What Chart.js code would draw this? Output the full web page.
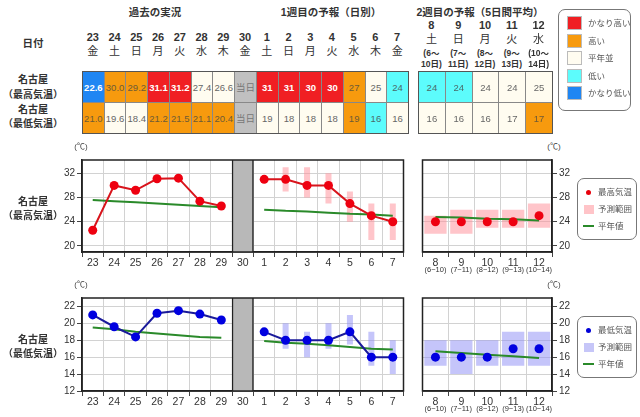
<!DOCTYPE html>
<html>
<head>
<meta charset="utf-8">
<script src="https://cdn.jsdelivr.net/npm/chart.js@4.4.1/dist/chart.umd.min.js"></script>
<style>
  body { margin: 0; width: 640px; height: 417px; background: #fff; position: relative; overflow: hidden;
         font-family: "Liberation Sans", "Noto Sans CJK JP", sans-serif; color: #333; }
  .t { position: absolute; white-space: nowrap; transform: translateX(-50%); text-align: center; }
  .l { position: absolute; white-space: nowrap; }
  .cell { position: absolute; box-sizing: border-box; border-right: 1px solid #888; border-bottom: 1px solid #888;
          font-size: 9.5px; display: flex; align-items: center; justify-content: center; color: #666; }
  .tbl { position: absolute; box-sizing: border-box; border: 1px solid #555; }
  .legend { position: absolute; box-sizing: border-box; border: 1px solid #777; border-radius: 7px; background: #fff; }
  canvas { position: absolute; }
</style>
</head>
<body>
<canvas id="highWeek" width="368" height="122" style="left:40px;top:152px"></canvas>
<canvas id="highWeek2" width="164" height="132" style="left:418px;top:152px"></canvas>
<canvas id="lowWeek" width="368" height="123" style="left:40px;top:290px"></canvas>
<canvas id="lowWeek2" width="164" height="133" style="left:418px;top:290px"></canvas>
<script>
// 日付
const pastDays = ['23', '24', '25', '26', '27', '28', '29'];
const pastWeekdays = ['金', '土', '日', '月', '火', '水', '木'];
const todayDay = '30';
const todayWeekday = '金';
const week1Days = ['1', '2', '3', '4', '5', '6', '7'];
const week1Weekdays = ['土', '日', '月', '火', '水', '木', '金'];
const week2Days = ['8', '9', '10', '11', '12'];
const week2Weekdays = ['土', '日', '月', '火', '水'];
const week2Periods = [['6', '10'], ['7', '11'], ['8', '12'], ['9', '13'], ['10', '14']];

// 最高気温
const pastHigh = [22.6, 30.0, 29.2, 31.1, 31.2, 27.4, 26.6];
const week1High = [31, 31, 30, 30, 27, 25, 24];
const week1HighRange = [null, [29, 33], [28, 33], [27, 32], [24, 29], [21, 27], [21, 27]];
const week2High = [24, 24, 24, 24, 25];
const week2HighRange = [[22, 25], [22, 26], [23, 26], [23, 26], [23, 27]];
const normalHighPast = [27.6, 27.4, 27.2, 27.0, 26.8, 26.6, 26.4];
const normalHighWeek1 = [26.0, 25.8, 25.7, 25.5, 25.3, 25.2, 25.0];
const normalHighWeek2 = [24.8, 24.7, 24.5, 24.4, 24.2];
const pastHighClass = ['vlow', 'high', 'high', 'vhigh', 'vhigh', 'norm', 'norm'];
const week1HighClass = ['vhigh', 'vhigh', 'vhigh', 'vhigh', 'high', 'norm', 'low'];
const week2HighClass = ['low', 'low', 'norm', 'norm', 'norm'];

// 最低気温
const pastLow = [21.0, 19.6, 18.4, 21.2, 21.5, 21.1, 20.4];
const week1Low = [19, 18, 18, 18, 19, 16, 16];
const week1LowRange = [null, [17, 20], [16, 19], [17, 20], [17.5, 21], [15, 19], [14, 18]];
const week2Low = [16, 16, 16, 17, 17];
const week2LowRange = [[15, 18], [14, 18], [15, 18], [15, 19], [15, 19]];
const normalLowPast = [19.5, 19.3, 19.0, 18.8, 18.6, 18.4, 18.3];
const normalLowWeek1 = [17.9, 17.7, 17.6, 17.4, 17.2, 17.0, 16.9];
const normalLowWeek2 = [16.7, 16.5, 16.3, 16.1, 15.9];
const pastLowClass = ['high', 'norm', 'norm', 'high', 'high', 'high', 'high'];
const week1LowClass = ['norm', 'norm', 'norm', 'norm', 'high', 'low', 'norm'];
const week2LowClass = ['norm', 'norm', 'norm', 'norm', 'high'];

// 軸
const highTicks = [20, 22, 24, 26, 28, 30, 32, 34];
const lowTicks = [12, 14, 16, 18, 20, 22];

const legendItems = [['vhigh', 'かなり高い'], ['high', '高い'], ['norm', '平年並'], ['low', '低い'], ['vlow', 'かなり低い']];

const classColors = { vhigh: '#f01f23', high: '#f79a0e', norm: '#fffcf0', low: '#5cfcfc', vlow: '#1f86f3', today: '#c0c0c0' };
const classText = { vhigh: '#fff', high: '#6e5a36', norm: '#666', low: '#4a6a6a', vlow: '#fff', today: '#777' };

function text(x, y, str, size, extra) {
    const d = document.createElement('div');
    d.className = 't';
    d.textContent = str;
    d.style.left = x + 'px';
    d.style.top = (y - (size + 2) / 2) + 'px';
    d.style.fontSize = size + 'px';
    d.style.lineHeight = (size + 2) + 'px';
    if (extra) Object.assign(d.style, extra);
    document.body.appendChild(d);
    return d;
}

// 見出し
const bold = { fontWeight: 'bold', color: '#333' };
text(155, 12, '過去の実況', 10.5, bold);
text(331, 12, '1週目の予報（日別）', 10.5, bold);
text(480, 12, '2週目の予報（5日間平均）', 10.5, bold);
text(33, 43, '日付', 10.5, bold);
text(33, 80, '名古屋', 10, bold);
text(33, 95, '（最高気温）', 10, bold);
text(33, 110, '名古屋', 10, bold);
text(33, 124, '（最低気温）', 10, bold);
text(33, 202, '名古屋', 10, bold);
text(33, 216, '（最高気温）', 10, bold);
text(33, 340, '名古屋', 10, bold);
text(33, 354, '（最低気温）', 10, bold);
text(81, 147, '(℃)', 8, { color: '#444' });
text(554, 147, '(℃)', 8, { color: '#444' });
text(81, 285, '(℃)', 8, { color: '#444' });
text(554, 285, '(℃)', 8, { color: '#444' });

// 表
function buildTable(left, top, colW, rowH, days, weekdays, rows) {
    const n = days.length;
    const t = document.createElement('div');
    t.className = 'tbl';
    t.style.left = left + 'px';
    t.style.top = top + 'px';
    t.style.width = (colW * n + 1) + 'px';
    t.style.height = (rowH * rows.length + 1) + 'px';
    document.body.appendChild(t);
    rows.forEach((row, r) => {
        row.forEach((c, i) => {
            const d = document.createElement('div');
            d.className = 'cell';
            d.style.left = (left + colW * i) + 'px';
            d.style.top = (top + rowH * r) + 'px';
            d.style.width = (colW + 1) + 'px';
            d.style.height = (rowH + 1) + 'px';
            d.style.border = '1px solid #888';
            d.style.background = classColors[c.cls];
            d.style.color = classText[c.cls];
            if (c.cls === 'vhigh' || c.cls === 'vlow') d.style.fontWeight = 'bold';
            d.textContent = c.text;
            document.body.appendChild(d);
        });
    });
    t.style.zIndex = 2;
}

const colW1 = 326 / 15;
const days1 = [...pastDays, todayDay, ...week1Days];
const wd1 = [...pastWeekdays, todayWeekday, ...week1Weekdays];
days1.forEach((d, i) => {
    const cx = 82 + colW1 * (i + 0.5);
    text(cx, 37, d, 11, { fontWeight: 'bold', color: '#333' });
    text(cx, 51, wd1[i], 11, { color: '#333' });
});
const fmt1 = v => v.toFixed(1);
const highRow1 = [
    ...pastHigh.map((v, i) => ({ text: fmt1(v), cls: pastHighClass[i] })),
    { text: '当日', cls: 'today' },
    ...week1High.map((v, i) => ({ text: String(v), cls: week1HighClass[i] }))
];
const lowRow1 = [
    ...pastLow.map((v, i) => ({ text: fmt1(v), cls: pastLowClass[i] })),
    { text: '当日', cls: 'today' },
    ...week1Low.map((v, i) => ({ text: String(v), cls: week1LowClass[i] }))
];
buildTable(82, 71, colW1, 31, days1, wd1, [highRow1, lowRow1]);

const colW2 = 134 / 5;
week2Days.forEach((d, i) => {
    const cx = 418 + colW2 * (i + 0.5);
    text(cx, 25, d, 11, { fontWeight: 'bold', color: '#333' });
    text(cx, 39, week2Weekdays[i], 11, { color: '#333' });
    text(cx, 53, '(' + week2Periods[i][0] + '〜', 8.5, { color: '#333', fontWeight: 'bold' });
    text(cx, 64, week2Periods[i][1] + '日)', 8.5, { color: '#333', fontWeight: 'bold' });
});
buildTable(418, 71, colW2, 31, week2Days, week2Weekdays, [
    week2High.map((v, i) => ({ text: String(v), cls: week2HighClass[i] })),
    week2Low.map((v, i) => ({ text: String(v), cls: week2LowClass[i] }))
]);

// 凡例（表）
const lg = document.createElement('div');
lg.className = 'legend';
Object.assign(lg.style, { left: '558px', top: '9px', width: '73px', height: '102px' });
document.body.appendChild(lg);
legendItems.forEach(([cls, label], i) => {
    const y = 23 + i * 17.5;
    const sw = document.createElement('div');
    Object.assign(sw.style, { position: 'absolute', left: '567px', top: (y - 7) + 'px', width: '15px', height: '14px',
        background: classColors[cls], border: '1px solid #bbb', boxSizing: 'border-box' });
    document.body.appendChild(sw);
    const tx = document.createElement('div');
    tx.className = 'l';
    tx.textContent = label;
    Object.assign(tx.style, { left: '588px', top: (y - 6) + 'px', fontSize: '8.5px', lineHeight: '12px', color: '#555' });
    document.body.appendChild(tx);
});

// 凡例（グラフ）
function chartLegend(top, color, fill, label) {
    const b = document.createElement('div');
    b.className = 'legend';
    Object.assign(b.style, { left: '577px', top: top + 'px', width: '60px', height: '62px' });
    document.body.appendChild(b);
    const ys = [top + 14, top + 31, top + 48];
    const dot = document.createElement('div');
    Object.assign(dot.style, { position: 'absolute', left: '586px', top: (ys[0] - 2.5) + 'px', width: '5px', height: '5px',
        borderRadius: '50%', background: color });
    document.body.appendChild(dot);
    const sq = document.createElement('div');
    Object.assign(sq.style, { position: 'absolute', left: '584px', top: (ys[1] - 4.5) + 'px', width: '10px', height: '9px', background: fill });
    document.body.appendChild(sq);
    const ln = document.createElement('div');
    Object.assign(ln.style, { position: 'absolute', left: '583px', top: (ys[2] - 1) + 'px', width: '11px', height: '2px', background: '#2a8a2a' });
    document.body.appendChild(ln);
    [label, '予測範囲', '平年値'].forEach((s, i) => {
        const tx = document.createElement('div');
        tx.className = 'l';
        tx.textContent = s;
        Object.assign(tx.style, { left: '598px', top: (ys[i] - 6) + 'px', fontSize: '8.5px', lineHeight: '12px', color: '#555' });
        document.body.appendChild(tx);
    });
}
chartLegend(178, '#e8000b', '#ffc4c8', '最高気温');
chartLegend(316, '#0000d8', '#c6c6f8', '最低気温');

// グラフ
const framePlugin = {
    id: 'frame',
    afterDatasetsDraw(chart) {
        const { ctx, chartArea: a } = chart;
        ctx.save();
        ctx.strokeStyle = '#222';
        ctx.lineWidth = 1.5;
        ctx.strokeRect(a.left, a.top, a.right - a.left, a.bottom - a.top);
        ctx.restore();
    }
};

const subLabelPlugin = {
    id: 'subLabels',
    afterDraw(chart) {
        const { ctx } = chart;
        const x = chart.scales.x;
        ctx.save();
        ctx.font = '7.5px "Liberation Sans", sans-serif';
        ctx.fillStyle = '#333';
        ctx.textAlign = 'center';
        ctx.textBaseline = 'middle';
        week2Periods.forEach((p, i) => {
            ctx.fillText('(' + p[0] + '−' + p[1] + ')', x.getPixelForValue(i), chart.chartArea.bottom + 18);
        });
        ctx.restore();
    }
};

function xScale() {
    return {
        offset: true,
        grid: { offset: true, color: '#d2d2d2', tickColor: '#444', tickLength: 5, drawTicks: true },
        border: { color: '#222', width: 1.5 },
        ticks: { font: { size: 10.5, family: '"Liberation Sans", sans-serif' }, color: '#333', padding: 0, autoSkip: false, maxRotation: 0 },
        afterFit(s) { s.height = 22; }
    };
}

function yScale(min, max, ticks, labelEvery, position, width) {
    return {
        position: position,
        min: min,
        max: max,
        afterBuildTicks(s) { s.ticks = ticks.map(v => ({ value: v })); },
        grid: { color: '#d2d2d2', tickColor: '#444', tickLength: 5 },
        border: { color: '#222', width: 1.5 },
        ticks: {
            font: { size: 10, family: '"Liberation Sans", sans-serif' }, color: '#333', padding: 2,
            callback: v => (v % labelEvery === 0 ? v : '')
        },
        afterFit(s) { s.width = width; }
    };
}

function weekChart(id, o) {
    const labels = [...pastDays, todayDay, ...week1Days];
    const gap = (a, b) => [...a, null, ...b];
    const today = labels.map((d, i) => (i === pastDays.length ? [o.min, o.max] : null));
    new Chart(document.getElementById(id), {
        type: 'bar',
        data: {
            labels: labels,
            datasets: [
                {
                    type: 'line', data: gap(o.past, o.week1), borderColor: o.lineColor, backgroundColor: o.dotColor,
                    borderWidth: 2, pointRadius: 4.5, pointBorderWidth: 0, spanGaps: false, order: 0
                },
                {
                    type: 'line', data: gap(o.normPast, o.normWeek1), borderColor: '#2a8a2a', borderWidth: 2,
                    pointRadius: 0, spanGaps: false, order: 1
                },
                {
                    data: [...pastDays.map(() => null), null, ...o.range], backgroundColor: o.fill,
                    barPercentage: 0.28, categoryPercentage: 1, grouped: false, order: 2
                },
                {
                    data: today, backgroundColor: '#b8b8b8', borderColor: '#222', borderSkipped: false,
                    borderWidth: { left: 1.5, right: 1.5, top: 0, bottom: 0 },
                    barPercentage: 1, categoryPercentage: 1, grouped: false, order: 3
                }
            ]
        },
        options: {
            responsive: false,
            animation: false,
            devicePixelRatio: 1,
            layout: { padding: { top: 3, bottom: 0, left: 0, right: 0 } },
            plugins: { legend: { display: false }, tooltip: { enabled: false } },
            scales: {
                x: xScale(),
                y: yScale(o.min, o.max, o.ticks, o.labelEvery, 'left', 42)
            }
        },
        plugins: [framePlugin]
    });
}

function week2Chart(id, o) {
    new Chart(document.getElementById(id), {
        type: 'bar',
        data: {
            labels: week2Days,
            datasets: [
                {
                    type: 'line', data: o.values, backgroundColor: o.dotColor, showLine: false,
                    pointRadius: 4.5, pointBorderWidth: 0, order: 0
                },
                {
                    type: 'line', data: o.norm, borderColor: '#2a8a2a', borderWidth: 2, pointRadius: 0, order: 1
                },
                {
                    data: o.range, backgroundColor: o.fill, barPercentage: 0.86, categoryPercentage: 1, grouped: false, order: 2
                }
            ]
        },
        options: {
            responsive: false,
            animation: false,
            devicePixelRatio: 1,
            layout: { padding: { top: 3, bottom: 10, left: 0, right: 0 } },
            plugins: { legend: { display: false }, tooltip: { enabled: false } },
            scales: {
                x: xScale(),
                y: yScale(o.min, o.max, o.ticks, o.labelEvery, 'right', 30)
            }
        },
        plugins: [framePlugin, subLabelPlugin]
    });
}

const redFill = 'rgba(255, 140, 150, 0.5)';
const blueFill = 'rgba(140, 140, 245, 0.5)';

weekChart('highWeek', {
    past: pastHigh, week1: week1High, range: week1HighRange, normPast: normalHighPast, normWeek1: normalHighWeek1,
    lineColor: '#d8141c', dotColor: '#ee0010', fill: redFill, min: 19, max: 34.2, ticks: highTicks, labelEvery: 4
});
week2Chart('highWeek2', {
    values: week2High, range: week2HighRange, norm: normalHighWeek2,
    dotColor: '#ee0010', fill: redFill, min: 19, max: 34.2, ticks: highTicks, labelEvery: 4
});
weekChart('lowWeek', {
    past: pastLow, week1: week1Low, range: week1LowRange, normPast: normalLowPast, normWeek1: normalLowWeek1,
    lineColor: '#1a1a9a', dotColor: '#0000e0', fill: blueFill, min: 12, max: 23, ticks: lowTicks, labelEvery: 2
});
week2Chart('lowWeek2', {
    values: week2Low, range: week2LowRange, norm: normalLowWeek2,
    dotColor: '#0000e0', fill: blueFill, min: 12, max: 23, ticks: lowTicks, labelEvery: 2
});
</script>
</body>
</html>
